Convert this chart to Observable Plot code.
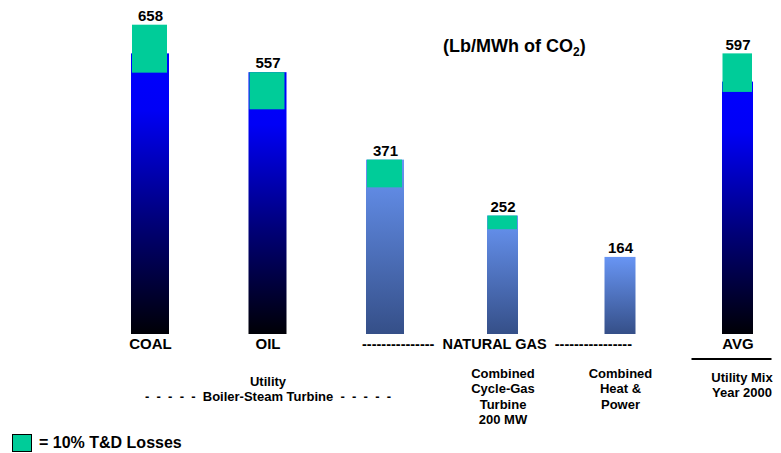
<!DOCTYPE html>
<html>
<head>
<meta charset="utf-8">
<script src="https://cdn.jsdelivr.net/npm/d3@7"></script>
<script src="https://cdn.jsdelivr.net/npm/@observablehq/plot@0.6"></script>
<style>
  body { margin: 0; background: #fff; font-family: "Liberation Sans", Arial, sans-serif; }
  #wrap { position: relative; width: 781px; height: 453px; }
  #title { position: absolute; left: 443px; top: 36px; font-size: 18px; font-weight: bold; color: #000; white-space: nowrap; }
  #title sub { font-size: 12px; vertical-align: -4px; line-height: 0; }
  #legend { display: flex; align-items: center; height: 21px; padding-left: 12px; font-size: 16px; font-weight: bold; }
  #legend .sw { width: 18px; height: 16px; background: #00CC99; border: 1px solid #000; margin-right: 7px; }
  svg text { white-space: pre; }
</style>
</head>
<body>
<div id="wrap">
  <div id="chart"></div>
  <div id="title">(Lb/MWh of CO<sub>2</sub>)</div>
  <div id="legend"><div class="sw"></div><span>= 10% T&amp;D Losses</span></div>
</div>
<script>
// ---- data ----
const categories = ["Coal", "Oil", "Gas boiler", "Gas CCGT", "Gas CHP", "Average"];
const totals      = [658, 557, 371, 252, 164, 597];   // labelled value (top of bar)
const baseTops    = [597, 557, 371, 252, 164, 537];   // top of the gradient bar
const lossBottoms = [556, 478, 312, 223, null, 515];  // bottom of the T&D losses box
const axisLabels  = ["COAL", "OIL", "", "---------------  NATURAL GAS  ----------------", "", "AVG"];
const subLabels   = ["", "Utility\n-  -  -  -  -  Boiler-Steam Turbine  -  -  -  -  -", "",
                     "Combined\nCycle-Gas\nTurbine\n200 MW", "Combined\nHeat &\nPower", "Utility Mix\nYear 2000"];

const rows = categories.map((c, i) => ({
  cat: c, total: totals[i], base: baseTops[i], lossBottom: lossBottoms[i],
  axis: axisLabels[i], sub: subLabels[i]
}));

const darkCats = new Set([categories[0], categories[1], categories[5]]);
const narrowCats = new Set([categories[3], categories[4], categories[5]]);
const isDark = d => darkCats.has(d.cat);
const isNarrow = d => narrowCats.has(d.cat);

const bold = {fontWeight: "bold", fill: "#000"};

function gradients() {
  const ns = "http://www.w3.org/2000/svg";
  const defs = document.createElementNS(ns, "defs");
  defs.innerHTML =
    `<linearGradient id="gDark" x1="0" y1="0" x2="0" y2="1">
       <stop offset="0" stop-color="#0000ff"/>
       <stop offset="0.2" stop-color="#0000f6"/>
       <stop offset="0.6" stop-color="#000078"/>
       <stop offset="1" stop-color="#000006"/>
     </linearGradient>
     <linearGradient id="gGas" x1="0" y1="0" x2="0" y2="1">
       <stop offset="0" stop-color="#6895f4"/>
       <stop offset="1" stop-color="#354f88"/>
     </linearGradient>`;
  return defs;
}

function avgUnderline(index, scales, values, dims) {
  const ns = "http://www.w3.org/2000/svg";
  const bw = typeof scales.x.bandwidth === "function" ? scales.x.bandwidth() : scales.x.bandwidth;
  const cx = scales.x(categories[5]) + bw / 2;
  const yb = dims.height - dims.marginBottom + 25;
  const line = document.createElementNS(ns, "line");
  line.setAttribute("x1", cx - 46);
  line.setAttribute("x2", cx + 34);
  line.setAttribute("y1", yb);
  line.setAttribute("y2", yb);
  line.setAttribute("stroke", "#000");
  line.setAttribute("stroke-width", 2);
  return line;
}

const barMark = (filter, fill) => {
  const narrowSet = rows.filter(d => filter(d) && isNarrow(d));
  const wideSet = rows.filter(d => filter(d) && !isNarrow(d));
  return [
    Plot.barY(wideSet, {x: "cat", y1: 0, y2: "base", fill}),
    Plot.barY(narrowSet, {x: "cat", y1: 0, y2: "base", fill, insetLeft: 3.5, insetRight: 3.5})
  ];
};

const losses = rows.filter(d => d.lossBottom != null);

const chart = Plot.plot({
  width: 781,
  height: 432,
  marginTop: 20,
  marginBottom: 98,
  marginLeft: 131,
  marginRight: 24.5,
  style: {fontFamily: "'Liberation Sans', Arial, sans-serif", background: "transparent"},
  x: {type: "band", domain: categories, paddingInner: 0.6766, paddingOuter: 0, round: false, axis: null},
  y: {domain: [0, 668], axis: null},
  marks: [
    gradients,
    ...barMark(isDark, "url(#gDark)"),
    ...barMark(d => !isDark(d), "url(#gGas)"),
    Plot.barY(losses.filter(d => !isNarrow(d)), {x: "cat", y1: "lossBottom", y2: "total", fill: "#00CC99", insetLeft: 1, insetRight: 2}),
    Plot.barY(losses.filter(d => isNarrow(d)), {x: "cat", y1: "lossBottom", y2: "total", fill: "#00CC99", insetLeft: 4, insetRight: 4.5}),
    Plot.text(rows, {x: "cat", y: "total", text: d => String(d.total), dy: -9, fontSize: 15, ...bold}),
    Plot.text(rows.filter(d => d.axis && d.cat !== categories[3]), {x: "cat", text: "axis", frameAnchor: "bottom", dy: 14, fontSize: 15, ...bold}),
    Plot.text(rows.filter(d => d.cat === categories[3]), {x: "cat", text: "axis", frameAnchor: "bottom", dy: 14, dx: -6, fontSize: 14.5, ...bold}),
    Plot.text(rows.filter(d => d.cat === categories[1]), {x: "cat", text: "sub", frameAnchor: "bottom", lineAnchor: "top", dy: 40, lineHeight: 1.2, fontSize: 13, ...bold}),
    Plot.text(rows.filter(d => d.cat === categories[3] || d.cat === categories[4]), {x: "cat", text: "sub", frameAnchor: "bottom", lineAnchor: "top", dy: 32, lineHeight: 1.2, fontSize: 13, ...bold}),
    Plot.text(rows.filter(d => d.cat === categories[5]), {x: "cat", text: "sub", frameAnchor: "bottom", lineAnchor: "top", dy: 36, lineHeight: 1.2, fontSize: 13, dx: 4, ...bold}),
    avgUnderline
  ]
});
document.getElementById("chart").appendChild(chart);
</script>
</body>
</html>
